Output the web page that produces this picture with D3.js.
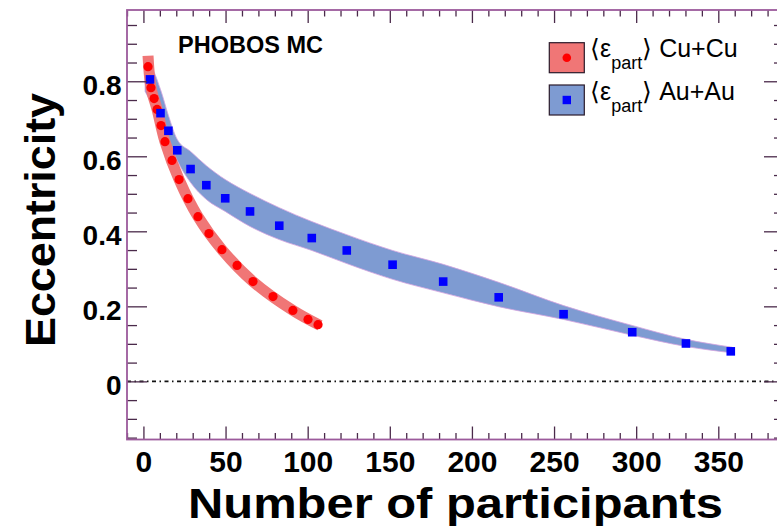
<!DOCTYPE html>
<html>
<head>
<meta charset="utf-8">
<script src="https://cdn.jsdelivr.net/npm/d3@7"></script>
<style>
  html, body { margin: 0; padding: 0; background: #fff; }
  svg { display: block; }
  text { font-family: "Liberation Sans", Arial, Helvetica, sans-serif; }
</style>
</head>
<body>
<svg id="chart" width="777" height="526"></svg>
<script>
// ---------------- data ----------------
const cuNpart = [2.8, 4.6, 6.5, 8.3, 10.7, 13.1, 17.4, 21.7, 27.1, 33.2, 39.9, 47.8, 57.0, 66.7, 78.9, 91.0, 100.2, 106.3];
const cuEcc   = [0.839, 0.783, 0.754, 0.725, 0.682, 0.639, 0.589, 0.538, 0.487, 0.439, 0.394, 0.351, 0.309, 0.266, 0.226, 0.189, 0.165, 0.151];

const cuBandN   = [2.8, 4.6, 8.3, 13.1, 21.7, 33.2, 47.8, 66.7, 91.0, 107.5];
const cuBandEcc = [0.868, 0.783, 0.725, 0.639, 0.538, 0.439, 0.351, 0.266, 0.189, 0.149];

const auNpart = [4.0, 10.4, 15.2, 20.6, 28.7, 38.3, 49.8, 64.9, 82.7, 102.5, 123.8, 151.7, 182.5, 216.3, 255.8, 297.6, 330.3, 357.6];
const auEcc   = [0.805, 0.715, 0.668, 0.616, 0.566, 0.523, 0.488, 0.453, 0.415, 0.382, 0.349, 0.311, 0.266, 0.224, 0.179, 0.131, 0.101, 0.080];

const auBandN  = [1.0, 4.0, 10.4, 15.2, 20.6, 28.7, 38.3, 49.8, 64.9, 82.7, 102.5, 123.8, 151.7, 182.5, 216.3, 255.8, 297.6, 330.3, 358.5];
const auBandHi = [0.837, 0.837, 0.778, 0.709, 0.645, 0.613, 0.575, 0.538, 0.501, 0.463, 0.426, 0.391, 0.349, 0.312, 0.264, 0.202, 0.149, 0.112, 0.091];
const auBandLo = [0.773, 0.748, 0.687, 0.645, 0.589, 0.530, 0.485, 0.453, 0.413, 0.378, 0.349, 0.314, 0.272, 0.236, 0.199, 0.165, 0.123, 0.093, 0.076];

const xMajorTicks = [0, 50, 100, 150, 200, 250, 300, 350];
const xTickLabels = ["0", "50", "100", "150", "200", "250", "300", "350"];
const yMajorTicks = [0, 0.2, 0.4, 0.6, 0.8];
const yTickLabels = ["0", "0.2", "0.4", "0.6", "0.8"];

// ---------------- layout ----------------
const L = 127, R = 784, T = 10, B = 439.5;
const svg = d3.select("#chart");

const x = d3.scaleLinear().domain([-10, 390]).range([L, R]);
const y = d3.scaleLinear().domain([-0.155, 0.99]).range([B, T]);

const xMinor = d3.range(-10, 391, 10).filter(v => xMajorTicks.indexOf(v) < 0);
const yMinor = d3.range(-15, 100, 5).map(v => v / 100).filter(v => !yMajorTicks.some(m => Math.abs(m - v) < 1e-9));

const tickColor = "#4a2a4a";

function styleAxis(g) {
  g.select(".domain").remove();
  g.selectAll(".tick line").attr("stroke", tickColor).attr("stroke-width", 1.3);
}

// ---------------- bands ----------------
const blueArea = d3.area()
  .x((d, i) => x(auBandN[i]))
  .y0((d, i) => y(auBandLo[i]))
  .y1((d, i) => y(auBandHi[i]))
  .curve(d3.curveMonotoneX);

svg.append("path")
  .datum(auBandN)
  .attr("d", blueArea)
  .attr("fill", "#7e9bd2")
  .attr("stroke", "#d4a3e0")
  .attr("stroke-width", 0.8);

const redLine = d3.line()
  .x((d, i) => x(cuBandN[i]))
  .y((d, i) => y(cuBandEcc[i]))
  .curve(d3.curveCatmullRom.alpha(0.5));

svg.append("path")
  .datum(cuBandN)
  .attr("d", redLine)
  .attr("fill", "none")
  .attr("stroke", "#f07676")
  .attr("stroke-width", 11)
  .attr("stroke-linecap", "butt")
  .attr("stroke-linejoin", "round");

// ---------------- zero line ----------------
svg.append("line")
  .attr("x1", L).attr("x2", R)
  .attr("y1", y(0)).attr("y2", y(0))
  .attr("stroke", "#111")
  .attr("stroke-width", 1.7)
  .attr("stroke-dasharray", "4,3.5,1.5,3.5");

// ---------------- points ----------------
svg.append("g").selectAll("circle")
  .data(cuNpart)
  .join("circle")
  .attr("cx", (d, i) => x(cuNpart[i]))
  .attr("cy", (d, i) => y(cuEcc[i]))
  .attr("r", 4.6)
  .attr("fill", "#ff0000");

const sq = 8.6;
svg.append("g").selectAll("rect")
  .data(auNpart)
  .join("rect")
  .attr("x", (d, i) => x(auNpart[i]) - sq / 2)
  .attr("y", (d, i) => y(auEcc[i]) - sq / 2)
  .attr("width", sq).attr("height", sq)
  .attr("fill", "#0000ff");

// ---------------- axes ----------------
// bottom
const gB = svg.append("g").attr("transform", `translate(0,${B})`)
  .call(d3.axisBottom(x).tickValues(xMajorTicks).tickSize(-13)
        .tickFormat((d, i) => xTickLabels[i]));
styleAxis(gB);
gB.selectAll(".tick text")
  .attr("y", 32).attr("dy", 0)
  .attr("fill", "#000")
  .style("font-size", "30px").style("font-weight", "bold");
const gBm = svg.append("g").attr("transform", `translate(0,${B})`)
  .call(d3.axisBottom(x).tickValues(xMinor).tickSize(-6.5).tickFormat(""));
styleAxis(gBm);

// top
const gT = svg.append("g").attr("transform", `translate(0,${T})`)
  .call(d3.axisTop(x).tickValues(xMajorTicks).tickSize(-13).tickFormat(""));
styleAxis(gT);
const gTm = svg.append("g").attr("transform", `translate(0,${T})`)
  .call(d3.axisTop(x).tickValues(xMinor).tickSize(-6.5).tickFormat(""));
styleAxis(gTm);

// left
const gL = svg.append("g").attr("transform", `translate(${L},0)`)
  .call(d3.axisLeft(y).tickValues(yMajorTicks).tickSize(-20)
        .tickFormat((d, i) => yTickLabels[i]));
styleAxis(gL);
gL.selectAll(".tick text")
  .attr("x", -5.5).attr("y", 13.5).attr("dy", 0)
  .attr("fill", "#000")
  .style("font-size", "28px").style("font-weight", "bold");
const gLm = svg.append("g").attr("transform", `translate(${L},0)`)
  .call(d3.axisLeft(y).tickValues(yMinor).tickSize(-10).tickFormat(""));
styleAxis(gLm);

// right
const gR = svg.append("g").attr("transform", `translate(${R},0)`)
  .call(d3.axisRight(y).tickValues(yMajorTicks).tickSize(-20).tickFormat(""));
styleAxis(gR);
const gRm = svg.append("g").attr("transform", `translate(${R},0)`)
  .call(d3.axisRight(y).tickValues(yMinor).tickSize(-10).tickFormat(""));
styleAxis(gRm);

// frame
svg.append("rect")
  .attr("x", L).attr("y", T)
  .attr("width", R - L).attr("height", B - T)
  .attr("fill", "none")
  .attr("stroke", "#9c5a9c")
  .attr("stroke-width", 1.8);

// ---------------- titles ----------------
svg.append("text")
  .attr("x", 455.5).attr("y", 517.5)
  .attr("text-anchor", "middle")
  .attr("textLength", 535).attr("lengthAdjust", "spacingAndGlyphs")
  .style("font-size", "43px").style("font-weight", "bold")
  .text("Number of participants");

svg.append("text")
  .attr("transform", "translate(55,220) rotate(-90)")
  .attr("text-anchor", "middle")
  .attr("textLength", 254).attr("lengthAdjust", "spacingAndGlyphs")
  .style("font-size", "43px").style("font-weight", "bold")
  .text("Eccentricity");

svg.append("text")
  .attr("x", 178).attr("y", 53)
  .style("font-size", "23.5px").style("font-weight", "bold")
  .text("PHOBOS MC");

// ---------------- legend ----------------
const legendItems = [
  { label: "Cu+Cu", fill: "#f07676", marker: "circle" },
  { label: "Au+Au", fill: "#7e9bd2", marker: "square" }
];
const lg = svg.append("g");
legendItems.forEach((it, i) => {
  const top = 42.7 + i * 42.3;
  lg.append("rect")
    .attr("x", 549.3).attr("y", top).attr("width", 35).attr("height", 30)
    .attr("fill", it.fill).attr("stroke", "#2a1a2a").attr("stroke-width", 1.2);
  if (it.marker === "circle") {
    lg.append("circle").attr("cx", 566.8).attr("cy", top + 15).attr("r", 4.3).attr("fill", "#ff0000");
  } else {
    lg.append("rect").attr("x", 566.8 - 4.2).attr("y", top + 15 - 4.2)
      .attr("width", 8.4).attr("height", 8.4).attr("fill", "#0000ff");
  }
  const t = lg.append("text")
    .attr("x", 590).attr("y", top + 14.6)
    .style("font-size", "25px");
  t.append("tspan").text("\u27E8\u03B5");
  t.append("tspan").attr("dy", 12).style("font-size", "18px").text("part");
  t.append("tspan").attr("dy", -12).text("\u27E9 " + it.label);
});
</script>
</body>
</html>
